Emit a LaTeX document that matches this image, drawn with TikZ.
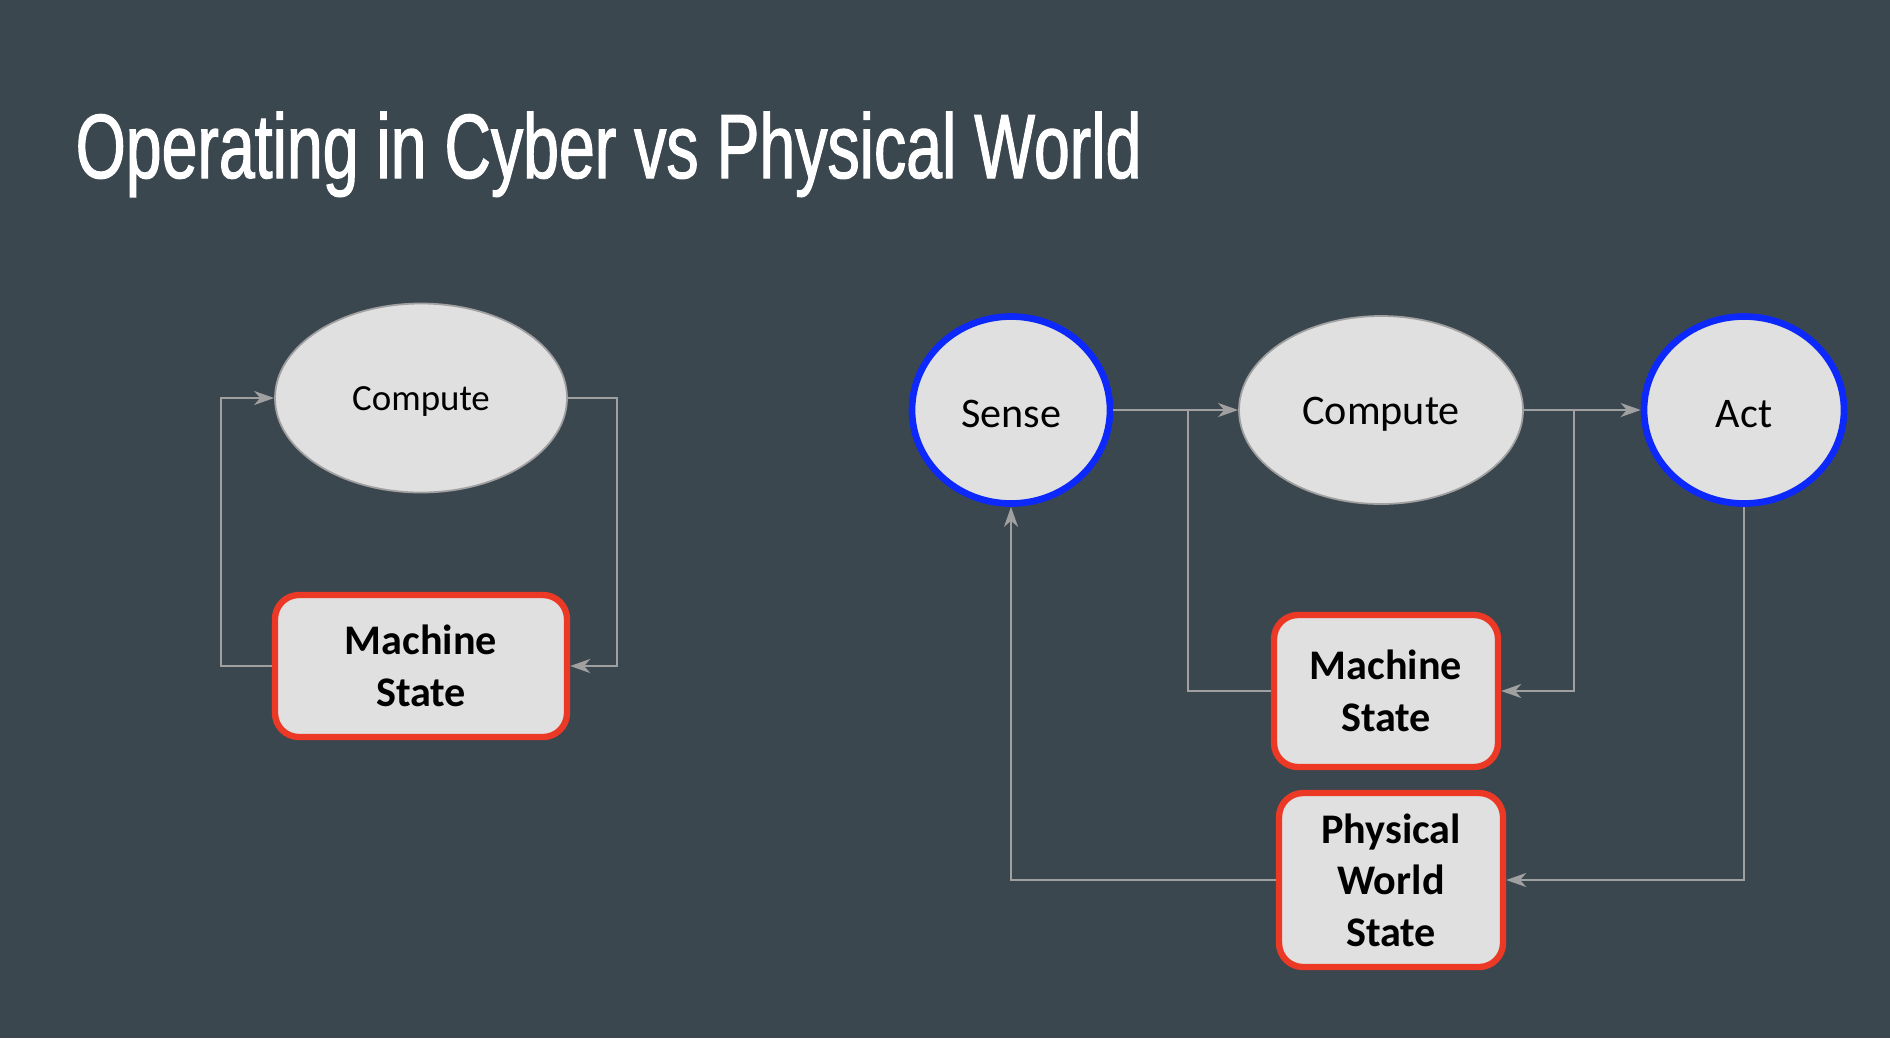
\documentclass[tikz,border=0pt]{standalone}
\usepackage{fontspec}
\setmainfont{Carlito}
\newfontfamily\titlefont[FakeStretch=0.705, FakeBold=1.2]{Liberation Sans}
\usepackage{tikz}
\usetikzlibrary{shapes.geometric, arrows.meta}
\definecolor{slide}{RGB}{59,71,79}
\definecolor{nodefill}{RGB}{224,224,224}
\definecolor{edgegray}{RGB}{160,160,160}
\definecolor{ioblue}{RGB}{12,40,250}
\definecolor{statered}{RGB}{236,57,37}
\newcommand{\lowered}[1]{\raisebox{-0.2ex}[\height][\depth]{#1}}
\tikzstyle{computer} = [ellipse, draw=edgegray, fill=nodefill, line width=0.5pt, inner sep=0pt, text centered]
\tikzstyle{io} = [ellipse, draw=ioblue, fill=nodefill, line width=1.9pt, inner sep=0pt, minimum height=18.7mm, text centered, font=\fontsize{12}{14.7}\selectfont]
\tikzstyle{statebox} = [rectangle, draw=statered, fill=nodefill, line width=1.8pt, rounded corners=2.4mm, align=center, font=\fontsize{12}{14.7}\selectfont\bfseries]
\tikzstyle{connector} = [draw, edgegray, line width=0.6pt, -{Stealth[length=2mm, width=1.4mm, inset=0.6mm]}]
\tikzstyle{wire} = [draw, edgegray, line width=0.6pt]

\begin{document}
\begin{tikzpicture}[x=0.1mm, y=-0.1mm]
        \fill[slide] (0,0) rectangle (1890,1038);
        \useasboundingbox (0,0) rectangle (1890,1038);

        \node[anchor=base west, inner sep=0pt, text=white, font=\titlefont\fontsize{26}{30}\selectfont] at (75,178) (title)
        {Operating in Cyber vs Physical World};

        % cyber world
        \node [computer, minimum width=29.2mm, minimum height=18.9mm, font=\fontsize{10.5}{13}\selectfont] at (421,398) (comp1) {\lowered{Compute}};
        \node [statebox, minimum width=29.2mm, minimum height=14.2mm] at (421,666) (ms1) {Machine\\State};

        \path [connector] (ms1.west) -- ++(-51,0) |- (comp1.west);
        \path [connector] (comp1.east) -- ++(49,0) |- (ms1.east);

        % physical world
        \node [io, minimum width=19.8mm] at (1011,410) (sense) {\lowered{Sense}};
        \node [computer, minimum width=28.4mm, minimum height=18.8mm, font=\fontsize{12}{14.7}\selectfont] at (1381,410) (comp2) {\lowered{Compute}};
        \node [io, minimum width=20mm] at (1744,410) (act) {\lowered{Act}};
        \node [statebox, minimum width=22.4mm, minimum height=15.2mm] at (1386,691) (ms2) {Machine\\State};
        \node [statebox, minimum width=22.4mm, minimum height=17.4mm] at (1391,880) (pws) {Physical\\World\\State};

        \coordinate (join1) at (1188,410);
        \coordinate (join2) at (1574,410);

        \path [connector] (sense.east) -- (comp2.west);
        \path [wire] (ms2.west) -| (join1);
        \path [connector] (comp2.east) -- (act.west);
        \path [connector] (join2) |- (ms2.east);
        \path [connector] (act.south) |- (pws.east);
        \path [connector] (pws.west) -| (sense.south);
\end{tikzpicture}
\end{document}
